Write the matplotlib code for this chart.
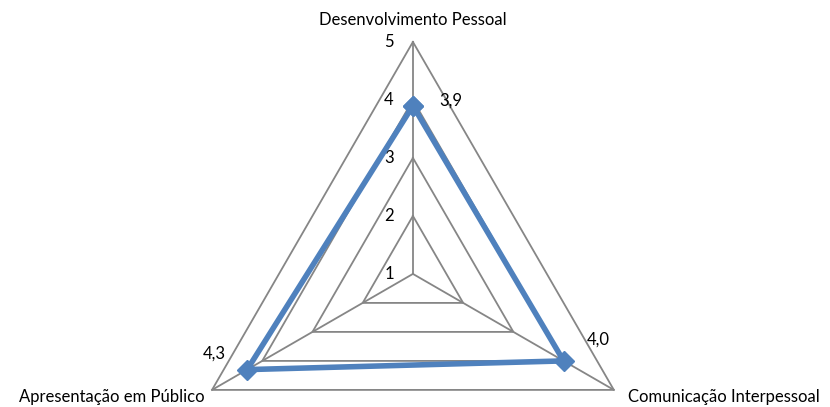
import matplotlib
matplotlib.use("Agg")
import matplotlib.pyplot as plt
import numpy as np

categories = ["Desenvolvimento Pessoal", "Comunicação Interpessoal", "Apresentação em Público"]
values = [3.9, 4.0, 4.3]
value_labels = ["3,9", "4,0", "4,3"]
levels = [1, 2, 3, 4, 5]

plt.rcParams["font.family"] = ["Lato", "DejaVu Sans"]

fig = plt.figure(figsize=(8.3, 4.07), dpi=100)
ax = fig.add_axes([0.218, -0.243, 0.559, 1.140], projection="polar")
ax.set_theta_zero_location("N")
ax.set_theta_direction(-1)
ax.set_ylim(1, 5)
ax.grid(False)
ax.set_xticks([])
ax.set_yticks([])
ax.spines["polar"].set_visible(False)
ax.patch.set_visible(False)

theta = np.linspace(0, 2 * np.pi, len(categories), endpoint=False)
closed = np.append(theta, theta[0])

grid_col = "#868686"
for lv in levels[1:]:
    ax.plot(closed, [lv] * len(closed), color=grid_col, lw=1.3, clip_on=False)
for t in theta:
    ax.plot([t, t], [levels[0], levels[-1]], color=grid_col, lw=1.3, clip_on=False)

ax.plot(closed, values + values[:1], color="#4F81BD", lw=4, marker="D",
        markersize=10, clip_on=False, zorder=5)

# axis value labels
for lv in levels:
    ax.annotate(str(lv), xy=(0, lv), xytext=(-24, 0), textcoords="offset pixels",
                ha="center", va="center", fontsize=12)

# category labels
cat_offsets = [(0, 22, "center"), (14, -7, "left"), (-7, -7, "right")]
for t, name, (dx, dy, ha) in zip(theta, categories, cat_offsets):
    ax.annotate(name, xy=(t, 5), xytext=(dx, dy), textcoords="offset pixels",
                ha=ha, va="center", fontsize=12)

# data labels
lab_offsets = [(38, 5), (35, 21), (-33, 16)]
for t, v, s, (dx, dy) in zip(theta, values, value_labels, lab_offsets):
    ax.annotate(s, xy=(t, v), xytext=(dx, dy), textcoords="offset pixels",
                ha="center", va="center", fontsize=12)

fig.savefig("out.png", dpi=100)
